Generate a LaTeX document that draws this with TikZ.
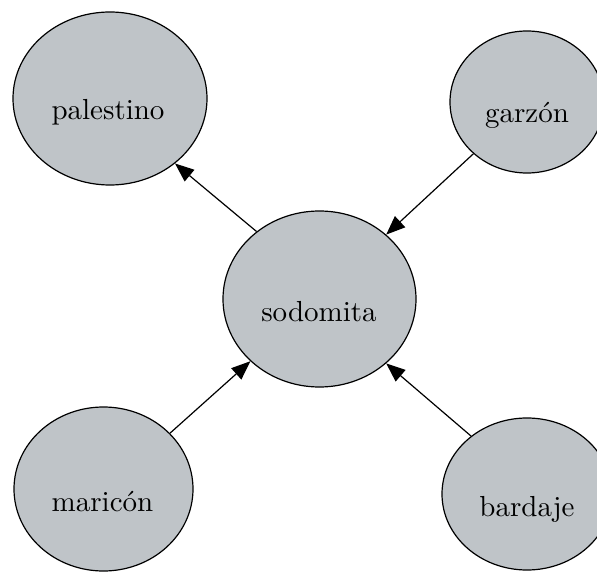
\documentclass[tikz,border=0pt]{standalone}
\usetikzlibrary{shapes.geometric,arrows.meta}
\definecolor{nodefill}{RGB}{191,196,200}
\newcommand{\bigword}[1]{\scalebox{2.9}{#1}}
\begin{document}
\begin{tikzpicture}[x=1pt,y=-1pt,
  blob/.style={ellipse,draw=black,line width=1.2pt,fill=nodefill,inner sep=0pt},
  lbl/.style={anchor=base,inner sep=0pt},
  conn/.style={line width=1.2pt,-{Triangle[length=19pt,width=15pt]}}]
\useasboundingbox (0,0) rectangle (597,572);
\clip (0,0) rectangle (597,572);
\node[blob,minimum width=194pt,minimum height=173pt] (pal) at (110,98.5) {};
\node[blob,minimum width=154pt,minimum height=142pt] (gar) at (527,102) {};
\node[blob,minimum width=193pt,minimum height=176pt] (sod) at (319.5,299) {};
\node[blob,minimum width=179pt,minimum height=164pt] (mar) at (103.5,489) {};
\node[blob,minimum width=170pt,minimum height=152pt] (bar) at (527,494) {};
\node[lbl] (tpal) at (108,120) {\bigword{palestino}};
\node[lbl] (tgar) at (527,122.5) {\bigword{garzón}};
\node[lbl] (tsod) at (319,321) {\bigword{sodomita}};
\node[lbl] (tmar) at (102.5,511) {\bigword{maricón}};
\node[lbl] (tbar) at (527,516.5) {\bigword{bardaje}};
\draw[conn] (sod.133.9) -- (pal.315.2);
\draw[conn] (gar.224.5) -- (sod.44.8);
\draw[conn] (mar.40.1) -- (sod.222.7);
\draw[conn] (bar.134) -- (sod.316.5);
\end{tikzpicture}
\end{document}
